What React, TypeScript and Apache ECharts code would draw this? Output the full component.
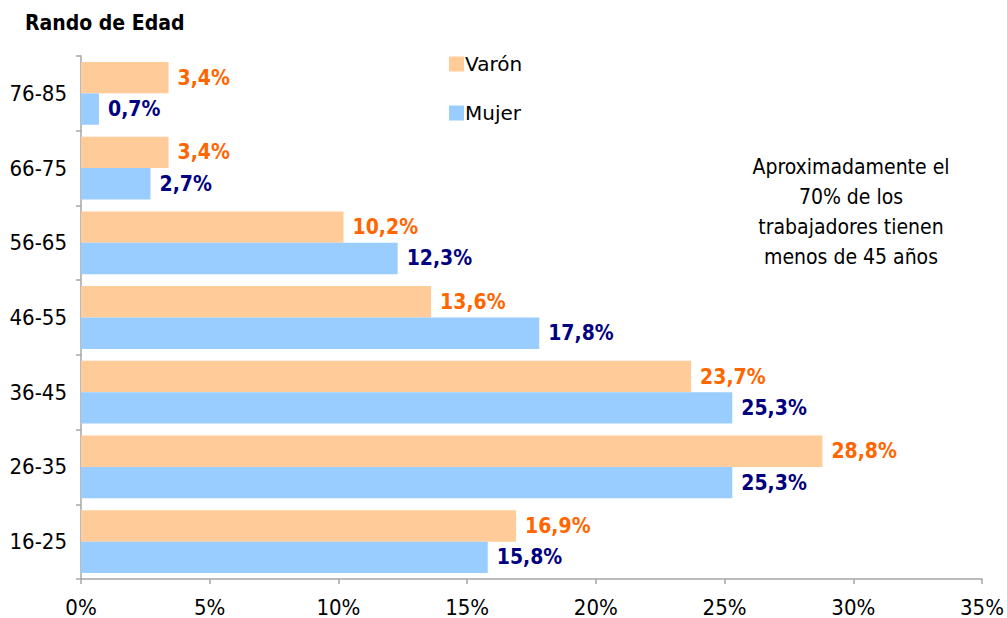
import React, { useEffect, useRef } from "react";
import * as echarts from "echarts";

const categories = ["16-25", "26-35", "36-45", "46-55", "56-65", "66-75", "76-85"];
const varon = [16.9, 28.8, 23.7, 13.6, 10.2, 3.4, 3.4];
const mujer = [15.8, 25.3, 25.3, 17.8, 12.3, 2.7, 0.7];
const xTicks = [0, 5, 10, 15, 20, 25, 30, 35];
const noteLines = ["Aproximadamente el", "70% de los", "trabajadores tienen", "menos de 45 años"];

const FONT = "'DejaVu Sans Condensed', 'DejaVu Sans', Verdana, sans-serif";
const FONT_N = "'DejaVu Sans', Verdana, sans-serif";
const fmt = (v: number) => v.toFixed(1).replace(".", ",") + "%";

export default function App() {
  const ref = useRef<HTMLDivElement>(null);
  useEffect(() => {
    if (!ref.current) return;
    const chart = echarts.init(ref.current, null, { renderer: "svg" });
    const label = (color: string) => ({
      show: true,
      position: "right",
      distance: 9,
      color,
      fontWeight: "bold",
      fontSize: 21,
      fontFamily: FONT,
      formatter: (p: any) => fmt(p.value),
    });
    chart.setOption({
      animation: false,
      textStyle: { fontFamily: FONT },
      grid: { left: 81, right: 23, top: 56, bottom: 37, containLabel: false },
      legend: {
        orient: "vertical",
        left: 444,
        top: 49,
        itemWidth: 15,
        itemHeight: 15,
        itemGap: 29,
        icon: "rect",
        data: ["Varón", "Mujer"],
        textStyle: { fontFamily: FONT_N, fontSize: 20, color: "#000", padding: [0, 0, 0, -4] },
      },
      xAxis: {
        type: "value",
        min: xTicks[0],
        max: xTicks[xTicks.length - 1],
        interval: 5,
        splitLine: { show: false },
        axisLine: { show: true, lineStyle: { color: "#A6A6A6", width: 1.5 } },
        axisTick: { show: true, length: 5, lineStyle: { color: "#A6A6A6", width: 1.5 } },
        axisLabel: { fontSize: 22, color: "#000", margin: 17, formatter: "{value}%", fontFamily: FONT },
      },
      yAxis: {
        type: "category",
        data: categories,
        axisLine: { show: true, lineStyle: { color: "#A6A6A6", width: 1.5 } },
        axisTick: { show: true, length: 5, lineStyle: { color: "#A6A6A6", width: 1.5 } },
        axisLabel: { fontSize: 22, color: "#000", margin: 14, fontFamily: FONT },
      },
      series: [
        {
          name: "Varón",
          type: "bar",
          data: varon,
          barGap: "0%",
          barCategoryGap: "16%",
          itemStyle: { color: "#FFCC99" },
          label: label("#FF6600"),
        },
        {
          name: "Mujer",
          type: "bar",
          data: mujer,
          barGap: "0%",
          barCategoryGap: "16%",
          itemStyle: { color: "#99CCFF" },
          label: label("#000080"),
        },
      ],
      graphic: [
        {
          type: "text",
          left: 25,
          top: 12,
          style: { text: "Rando de Edad", font: `bold 21px ${FONT}`, fill: "#000" },
        },
        {
          type: "text",
          x: 851,
          y: 152,
          style: {
            text: noteLines.join("\n"),
            font: `21px ${FONT}`,
            fill: "#000",
            align: "center",
            lineHeight: 30,
          },
        },
      ],
    });
    return () => chart.dispose();
  }, []);
  return <div ref={ref} style={{ width: 1007, height: 618, position: "absolute", left: 0, top: 0 }} />;
}
